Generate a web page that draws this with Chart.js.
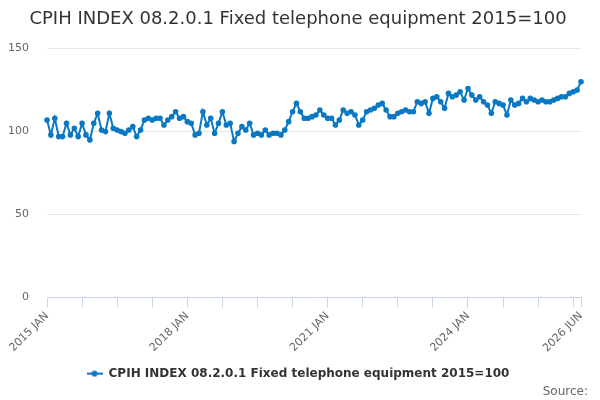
<!DOCTYPE html>
<html><head><meta charset="utf-8">
<script src="https://cdn.jsdelivr.net/npm/chart.js@4/dist/chart.umd.min.js"></script>
<style>html,body{margin:0;padding:0;background:#fff}#wrap{width:600px;height:400px;position:relative}</style>
</head><body><div id="wrap"><canvas id="c"></canvas></div>
<script>
const seriesName = "CPIH INDEX 08.2.0.1 Fixed telephone equipment 2015=100";
const sourceText = "Source:";
const monthNames = ["JAN","FEB","MAR","APR","MAY","JUN","JUL","AUG","SEP","OCT","NOV","DEC"];
const startYear = 2015;
const values = [
  107, 98, 108, 97, 97, 105, 98, 102, 97, 105, 98, 95,
  105, 111, 101, 100, 111, 102, 101, 100, 99, 101, 103, 97,
  101, 107, 108, 107, 108, 108, 104, 107, 109, 112, 108, 109,
  106, 105, 98, 99, 112, 104, 108, 99, 105, 112, 104, 105,
  94, 99, 103, 101, 105, 98, 99, 98, 101, 98, 99, 99,
  98, 101, 106, 112, 117, 112, 108, 108, 109, 110, 113, 110,
  108, 108, 104, 107, 113, 111, 112, 110, 104, 107, 112, 113,
  114, 116, 117, 113, 109, 109, 111, 112, 113, 112, 112, 118,
  117, 118, 111, 120, 121, 118, 114, 123, 121, 122, 124, 119,
  126, 122, 119, 121, 118, 116, 111, 118, 117, 116, 110, 119,
  116, 117, 120, 118, 120, 119, 118, 119, 118, 118, 119, 120,
  121, 121, 123, 124, 125, 130
];
const categories = values.map((v, i) => (startYear + Math.floor(i / 12)) + " " + monthNames[i % 12]);
const tickLabels = ["2015 JAN", "2018 JAN", "2021 JAN", "2024 JAN", "2026 JUN"];
const tickStep = 9;
const yTicks = [0, 50, 100, 150];

const lineColor = "#0a78c2";
const fontFamily = "'DejaVu Sans', Verdana, sans-serif";

// legend icon: short line with a dot
const icon = document.createElement("canvas");
icon.width = 16; icon.height = 8;
(function(){
  const g = icon.getContext("2d");
  g.strokeStyle = lineColor; g.lineWidth = 2;
  g.beginPath(); g.moveTo(0, 4); g.lineTo(16, 4); g.stroke();
  g.fillStyle = lineColor;
  g.beginPath(); g.arc(8, 4, 3, 0, Math.PI * 2); g.fill();
})();

Chart.defaults.font.family = fontFamily;

new Chart(document.getElementById("c"), {
  type: "line",
  data: {
    labels: categories,
    datasets: [{
      label: seriesName,
      data: values,
      borderColor: lineColor,
      backgroundColor: lineColor,
      borderWidth: 2,
      pointRadius: 1.8,
      pointHoverRadius: 3,
      tension: 0
    }]
  },
  options: {
    responsive: true,
    maintainAspectRatio: false,
    animation: false,
    layout: { padding: { left: 8, right: 12, top: 0, bottom: 0 } },
    scales: {
      x: {
        type: "category",
        offset: false,
        afterFit: (s) => { s.height = 70; s.paddingRight = 19; },
        border: { color: "#ccd6eb", width: 1 },
        grid: {
          drawOnChartArea: false,
          drawTicks: true,
          tickLength: 10,
          tickColor: (ctx) => (ctx.index % tickStep === 0 || ctx.index === values.length - 1) ? "#ccd6eb" : "rgba(0,0,0,0)"
        },
        ticks: {
          autoSkip: false,
          minRotation: 45,
          maxRotation: 45,
          color: "#666666",
          font: { size: 11 },
          padding: 2,
          callback: function(v, i) {
            const lab = categories[i];
            return tickLabels.includes(lab) ? lab : "";
          }
        }
      },
      y: {
        min: 0,
        max: 150,
        afterFit: (s) => { s.width = 39; },
        afterBuildTicks: (s) => { s.ticks = yTicks.map(v => ({ value: v })); },
        border: { display: false },
        grid: { color: "#e6e6e6", drawTicks: false },
        ticks: { color: "#666666", font: { size: 11 }, padding: 18 }
      }
    },
    plugins: {
      tooltip: { enabled: false },
      title: {
        display: true,
        text: seriesName,
        color: "#333333",
        font: { size: 18, weight: "normal" },
        padding: { top: 9, bottom: 18 }
      },
      subtitle: {
        display: true,
        text: sourceText,
        position: "bottom",
        align: "end",
        color: "#666666",
        font: { size: 12, weight: "normal" },
        padding: { top: -5, bottom: 1 }
      },
      legend: {
        position: "bottom",
        labels: {
          usePointStyle: true,
          pointStyle: icon,
          pointStyleWidth: 16,
          color: "#333333",
          font: { size: 12, weight: "bold" },
          padding: 0
        }
      }
    }
  }
});
</script>
</body></html>
